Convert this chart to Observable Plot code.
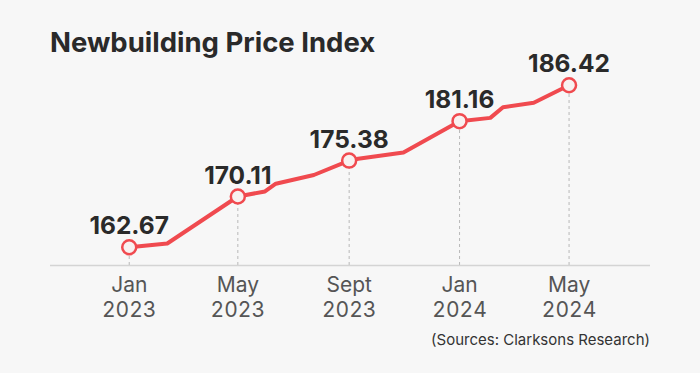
<!DOCTYPE html>
<html>
<head>
<meta charset="utf-8">
<script src="https://cdn.jsdelivr.net/npm/d3@7"></script>
<script src="https://cdn.jsdelivr.net/npm/@observablehq/plot@0.6"></script>
<style>
  html, body { margin: 0; padding: 0; background: #f7f7f7; }
  body { width: 700px; height: 373px; overflow: hidden; font-family: Inter, "Noto Sans", sans-serif; }
  #title { box-sizing: border-box; height: 58px; padding: 30px 0 0 50px; font-size: 27.5px; line-height: 24px; font-weight: 700; color: #2a2a2a; white-space: nowrap; }
  #chart svg { display: block; overflow: visible; }
  #caption { box-sizing: border-box; margin-top: 6px; padding-right: 50px; text-align: right; font-size: 15px; line-height: 18px; color: #333; }
</style>
</head>
<body>
<div id="title">Newbuilding Price Index</div>
<div id="chart"></div>
<div id="caption">(Sources: Clarksons Research)</div>
<script>
// Data
const dates = ["2023-01-01","2023-02-12","2023-05-01","2023-05-31","2023-06-12","2023-07-24","2023-09-01","2023-09-11","2023-10-31","2024-01-01","2024-02-04","2024-02-18","2024-03-23","2024-05-01"];
const values = [162.67, 163.23, 170.11, 170.86, 171.99, 173.27, 175.38, 175.66, 176.56, 181.16, 181.64, 183.21, 183.85, 186.42];
const labeledDates = ["2023-01-01","2023-05-01","2023-09-01","2024-01-01","2024-05-01"];
const tickMonths = ["Jan","May","Sept","Jan","May"];
const tickYears = ["2023","2023","2023","2024","2024"];

const series = dates.map((d, i) => ({date: new Date(d), value: values[i]}));
const labeled = series.filter(p => labeledDates.includes(p.date.toISOString().slice(0, 10)));
const tickDates = labeledDates.map(d => new Date(d));
const tickLabel = new Map(tickDates.map((d, i) => [+d, tickMonths[i] + "\n" + tickYears[i]]));

const red = "#f04a4f";
const yMin = 160;

const chart = Plot.plot({
  width: 700,
  height: 267,
  marginLeft: 50,
  marginRight: 50,
  marginTop: 16,
  marginBottom: 60,
  style: {background: "transparent", fontFamily: "Inter, sans-serif", overflow: "visible"},
  x: {type: "utc", domain: [d3.utcDay.offset(series[0].date, -87), d3.utcDay.offset(series[series.length - 1].date, 90)], axis: null},
  y: {domain: [yMin, 188], axis: null},
  marks: [
    Plot.ruleX(labeled, {x: "date", y1: yMin, y2: "value", stroke: "#b8b8b8", strokeWidth: 1, strokeDasharray: "3,3"}),
    Plot.ruleY([yMin], {stroke: "#d4d4d4", strokeWidth: 1.5}),
    Plot.line(series, {x: "date", y: "value", stroke: red, strokeWidth: 4, strokeLinejoin: "round", strokeLinecap: "round"}),
    Plot.dot(labeled, {x: "date", y: "value", r: 7, fill: "#f8f1f0", stroke: red, strokeWidth: 2.5}),
    Plot.text(labeled, {x: "date", y: "value", text: d => d.value.toFixed(2), lineAnchor: "bottom", dy: -13, fontSize: 24.5, fontWeight: 700, fill: "#2a2a2a"}),
    Plot.axisX({ticks: tickDates, tickFormat: d => tickLabel.get(+d), tickSize: 0, tickPadding: 8, fontSize: 21, fill: "#555", lineHeight: 1.22, label: null})
  ]
});
document.getElementById("chart").appendChild(chart);
</script>
</body>
</html>
